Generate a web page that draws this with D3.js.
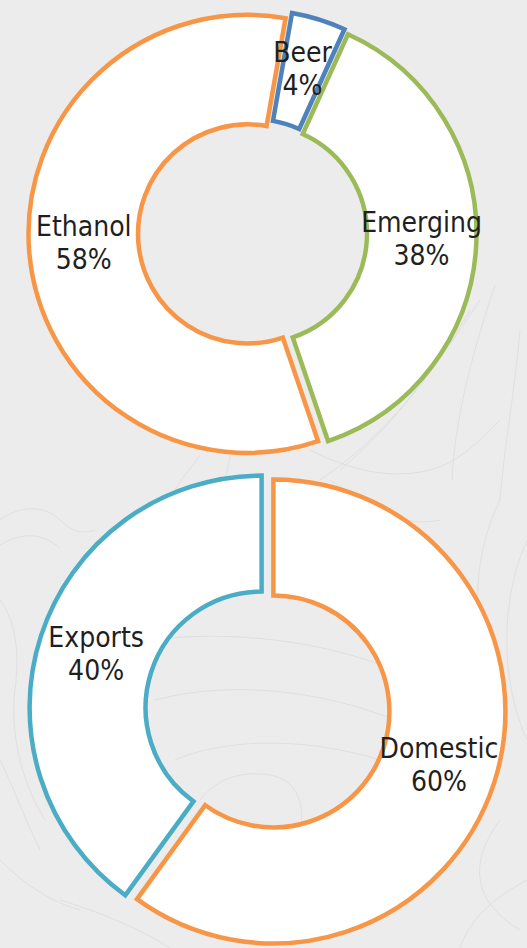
<!DOCTYPE html>
<html>
<head>
<meta charset="utf-8">
<script src="https://cdn.jsdelivr.net/npm/d3@7"></script>
<style>
  html, body { margin: 0; padding: 0; background: #ececec; }
  svg { display: block; }
</style>
</head>
<body>
<svg id="chart" width="527" height="948"></svg>
<script>
// Corn use by end market (upper ring)
const useCategories = ["Beer", "Emerging", "Ethanol"];
const useValues = [4, 38, 58];
const useColors = ["#4f81bd", "#9bbb59", "#f79646"];

// Domestic vs. export split (lower ring)
const marketCategories = ["Domestic", "Exports"];
const marketValues = [60, 40];
const marketColors = ["#f79646", "#4bacc6"];

const svg = d3.select("#chart");

// Faint decorative swirl lines in the page background
const bgLines = svg.append("g")
  .attr("fill", "none")
  .attr("stroke", "#d6d6d6")
  .attr("stroke-width", 0.6);
const swirlPaths = [
  "M495,285 C470,360 455,420 452,480",
  "M480,300 C440,360 400,420 340,470",
  "M470,310 C430,380 380,440 320,480",
  "M520,330 C515,390 505,440 500,500",
  "M310,450 C350,470 390,480 430,470 C460,462 480,440 500,420",
  "M200,455 C190,470 180,480 175,490",
  "M230,455 C228,470 225,480 222,490",
  "M0,520 C20,505 45,505 60,520 C70,530 80,535 95,530",
  "M0,545 C25,530 45,535 60,548",
  "M0,600 C15,620 20,650 15,690 C10,730 20,780 45,820",
  "M0,760 C15,790 25,820 40,850",
  "M0,860 C20,880 45,900 80,910",
  "M150,640 C230,630 320,640 395,670",
  "M155,700 C230,680 320,690 395,720",
  "M175,760 C220,740 300,735 380,760",
  "M200,800 C215,780 240,770 270,775 C300,780 305,810 300,830",
  "M500,500 C470,560 470,640 500,700",
  "M527,540 C500,600 500,680 527,740",
  "M500,820 C470,860 470,900 520,930",
  "M527,880 C490,900 470,920 460,948",
  "M330,480 C360,500 400,530 440,520",
  "M60,900 C110,915 150,935 170,948"
];
bgLines.selectAll("path").data(swirlPaths).join("path").attr("d", d => d);

const pct = d3.format(".0%");

function drawDonut(cats, vals, colors, opt) {
  const data = cats.map((c, i) => ({ cat: c, v: vals[i], color: colors[i] }));
  const total = d3.sum(vals);
  const a0 = opt.startDeg * Math.PI / 180;
  const pie = d3.pie().sort(null).value(d => d.v)
    .startAngle(a0).endAngle(a0 + 2 * Math.PI);
  const arc = d3.arc().innerRadius(opt.inner).outerRadius(opt.outer);

  const g = svg.append("g").attr("transform", `translate(${opt.cx},${opt.cy})`);
  // every slice is pulled outward along its bisector
  const slices = pie(data).map(s => {
    const mid = (s.startAngle + s.endAngle) / 2;
    return { s, dx: Math.sin(mid) * opt.explode, dy: -Math.cos(mid) * opt.explode };
  });

  g.selectAll("path.slice").data(slices).join("path")
    .attr("class", "slice")
    .attr("transform", d => `translate(${d.dx},${d.dy})`)
    .attr("d", d => arc(d.s))
    .attr("fill", "#ffffff")
    .attr("stroke", d => d.s.data.color)
    .attr("stroke-width", 4.5)
    .attr("stroke-linejoin", "miter");

  const labels = g.selectAll("text.lbl").data(slices).join("text")
    .attr("class", "lbl")
    .attr("text-anchor", "middle")
    .attr("font-family", "'DejaVu Sans Condensed', 'DejaVu Sans', sans-serif")
    .attr("font-size", 28)
    .attr("fill", "#1f1f1f")
    .attr("transform", d => {
      const [x, y] = arc.centroid(d.s);
      return `translate(${x + d.dx},${y + d.dy + opt.labelShift})`;
    });
  labels.append("tspan").attr("x", 0).attr("y", -7).text(d => d.s.data.cat);
  labels.append("tspan").attr("x", 0).attr("y", 26).text(d => pct(d.s.data.v / total));
}

drawDonut(useCategories, useValues, useColors,
  { cx: 252.5, cy: 233.5, outer: 219, inner: 109.5, explode: 5, startDeg: 10, labelShift: -3 });
drawDonut(marketCategories, marketValues, marketColors,
  { cx: 267.5, cy: 709.5, outer: 232, inner: 116, explode: 6.2, startDeg: 0, labelShift: 0 });
</script>
</body>
</html>
